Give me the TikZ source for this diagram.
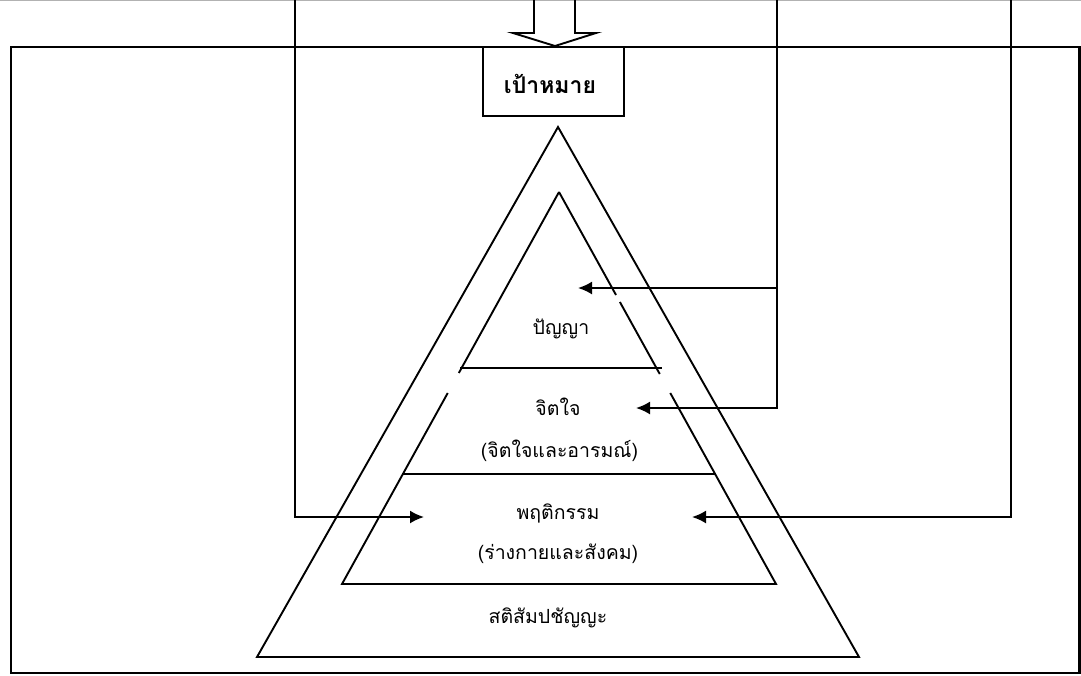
\documentclass[tikz,border=0pt]{standalone}
\usepackage{fontspec}
\newfontfamily\thaifont[Script=Thai]{Loma}
\usetikzlibrary{arrows.meta,calc}
\begin{document}
\begin{tikzpicture}[x=1pt,y=-1pt,
  ln/.style={line width=1.9pt},
  arr/.style={line width=1.9pt,-{Latex[length=14pt,width=13pt]}},
  lbl/.style={font=\thaifont\fontsize{19.5}{22}\selectfont, inner sep=0pt},
  goal/.style={draw,line width=1.9pt,minimum width=141pt,minimum height=69pt,inner sep=0pt}]
\useasboundingbox (0,0) rectangle (1081,675);
\fill[white] (0,0) rectangle (1081,675);
% top gray edge
\draw[gray!60,line width=1pt] (0,0.5) -- (1081,0.5);
% frame
\draw[line width=2.2pt] (11,47) rectangle (1079.5,673);
% goal box
\node[goal] (goalbox) at (553.5,81.5) {};
\node[font=\thaifont\bfseries\fontsize{23}{26}\selectfont, inner sep=0pt] (goaltext) at (550,84) {เป้าหมาย};
% block arrow
\coordinate (ba1) at (534,0);
\coordinate (ba2) at (575,0);
\coordinate (batip) at (555,46);
\draw[ln,line join=miter] (ba1) -- (534,33) -- (513,33) -- (batip) -- (596,33) -- (575,33) -- (ba2);
% outer triangle
\coordinate (oA) at (558,127);
\coordinate (oL) at (257,657);
\coordinate (oR) at (859,657);
\draw[ln,line join=miter] (oA) -- (oL) -- (oR) -- cycle;
% inner triangle (with gaps)
\coordinate (iA) at (559,192);
\coordinate (iL) at (342,584);
\coordinate (iR) at (776,584);
\draw[ln] (iA) -- ($(iA)!{(373-192)/392}!(iL)$);
\draw[ln,line join=miter] ($(iA)!{(393-192)/392}!(iL)$) -- (iL) -- (iR) -- ($(iA)!{(393-192)/392}!(iR)$);
\draw[ln] ($(iA)!{(374-192)/392}!(iR)$) -- ($(iA)!{(302-192)/392}!(iR)$);
\draw[ln] ($(iA)!{(295-192)/392}!(iR)$) -- (iA);
\draw[ln] (460,368) -- (662,368);
\draw[ln] (403,474) -- (716,474);
% labels
\node[lbl] (panya) at (561,329) {ปัญญา};
\node[lbl] (jit) at (558,407) {จิตใจ};
\node[lbl] (jit2) at (559.5,451) {(จิตใจและอารมณ์)};
\node[lbl] (phru) at (558,513) {พฤติกรรม};
\node[lbl] (phru2) at (558,554) {(ร่างกายและสังคม)};
\node[lbl] (sati) at (548,618) {สติสัมปชัญญะ};
% connectors
\coordinate (topL) at (295,0);
\coordinate (topM) at (777,0);
\coordinate (topR) at (1011,0);
\coordinate (jM) at (777,288);
\coordinate (tipA) at (578,288);
\coordinate (tipB) at (636,408);
\coordinate (tipC) at (424,517);
\coordinate (tipD) at (692,517);
\draw[arr] (topM) |- (tipB);
\draw[arr] (jM) -- (tipA);
\draw[arr] (topL) |- (tipC);
\draw[arr] (topR) |- (tipD);
\end{tikzpicture}
\end{document}
